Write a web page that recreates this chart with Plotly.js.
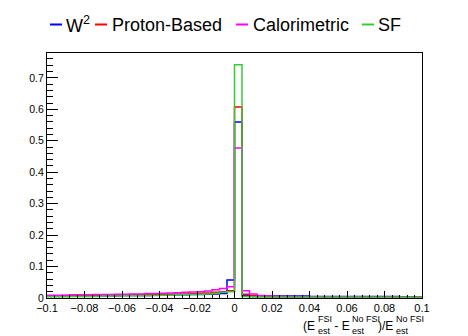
<!DOCTYPE html>
<html>
<head>
<meta charset="utf-8">
<script src="https://cdn.plot.ly/plotly-3.0.1.min.js"></script>
<style>
  html, body { margin: 0; padding: 0; background: #fff; }
  #chart { width: 468px; height: 336px; }
</style>
</head>
<body>
<div id="chart"></div>
<script>
// Binning: 50 bins of width 0.004 from -0.1 to 0.1
const binLow = -0.1;
const binWidth = 0.004;
const nBins = 50;

const seriesNames = ['W<sup>2</sup>', 'Proton-Based', 'Calorimetric', 'SF'];
const seriesColors = ['#0000ff', '#ff0000', '#ff00ff', '#33cc33'];

// bin contents (left edge -0.1 to right edge 0.1)
const w2Values = [
    0.006, 0.006, 0.006, 0.006, 0.006, 0.007, 0.007, 0.007, 0.007, 0.007,
    0.008, 0.008, 0.008, 0.008, 0.009, 0.009, 0.009, 0.010, 0.010, 0.011,
    0.011, 0.012, 0.013, 0.014, 0.057,
    0.560, 0.009, 0.007, 0.006, 0.006, 0.006, 0.006, 0.006, 0.006, 0.006,
    0.005, 0.005, 0.005, 0.005, 0.005, 0.005, 0.005, 0.005, 0.005, 0.005,
    0.005, 0.005, 0.004, 0.004, 0.004
];
const protonValues = [
    0.007, 0.007, 0.008, 0.008, 0.008, 0.008, 0.009, 0.009, 0.009, 0.009,
    0.010, 0.010, 0.010, 0.011, 0.011, 0.012, 0.012, 0.013, 0.013, 0.014,
    0.015, 0.016, 0.018, 0.020, 0.023,
    0.607, 0.012, 0.008, 0.006, 0.005, 0.005, 0.004, 0.004, 0.004, 0.004,
    0.004, 0.004, 0.004, 0.003, 0.003, 0.003, 0.003, 0.003, 0.003, 0.003,
    0.003, 0.003, 0.003, 0.003, 0.003
];
const caloValues = [
    0.009, 0.009, 0.009, 0.010, 0.010, 0.010, 0.011, 0.011, 0.011, 0.012,
    0.012, 0.013, 0.013, 0.014, 0.014, 0.015, 0.016, 0.017, 0.018, 0.019,
    0.020, 0.022, 0.026, 0.030, 0.036,
    0.477, 0.023, 0.013, 0.008, 0.006, 0.005, 0.005, 0.005, 0.004, 0.004,
    0.004, 0.004, 0.004, 0.004, 0.004, 0.004, 0.004, 0.003, 0.003, 0.003,
    0.003, 0.003, 0.003, 0.003, 0.003
];
const sfValues = [
    0.004, 0.004, 0.004, 0.005, 0.005, 0.005, 0.005, 0.006, 0.006, 0.006,
    0.007, 0.007, 0.007, 0.008, 0.008, 0.009, 0.009, 0.010, 0.011, 0.011,
    0.012, 0.013, 0.015, 0.018, 0.020,
    0.742, 0.005, 0.003, 0.003, 0.002, 0.002, 0.002, 0.002, 0.002, 0.002,
    0.002, 0.002, 0.002, 0.002, 0.002, 0.002, 0.002, 0.002, 0.002, 0.002,
    0.002, 0.002, 0.002, 0.002, 0.002
];

const allValues = [w2Values, protonValues, caloValues, sfValues];

// bin edges
const edges = [];
for (let i = 0; i <= nBins; i++) edges.push(+(binLow + i * binWidth).toFixed(4));

// plot area in pixels (for placing the hand-made legend and axis title)
const PL = 47, PR = 422, PT = 53, PB = 298;
const px = x => (x - PL) / (PR - PL);
const py = y => (PB - y) / (PB - PT);

const FONT = 'Liberation Sans, Arial, Helvetica, sans-serif';

// step histograms
const data = allValues.map((vals, k) => ({
    x: edges,
    y: vals.concat([vals[vals.length - 1]]),
    type: 'scatter',
    mode: 'lines',
    name: seriesNames[k],
    line: { color: seriesColors[k], width: 1.5, shape: 'hv' },
    hoverinfo: 'skip'
}));

// ROOT style legend across the top
const legendLines = [[50, 62], [95, 107], [236, 248], [362, 374]];
const legendText = [65, 111, 252, 377];
const shapes = legendLines.map((l, k) => ({
    type: 'line', xref: 'paper', yref: 'paper',
    x0: px(l[0]), x1: px(l[1]), y0: py(24.5), y1: py(24.5),
    line: { color: seriesColors[k], width: 2 }
}));
const annotations = seriesNames.map((name, k) => ({
    text: name, xref: 'paper', yref: 'paper',
    x: px(legendText[k]), y: py(25), xanchor: 'left', yanchor: 'middle',
    showarrow: false, borderpad: 0,
    font: { family: FONT, size: 18, color: '#000' }
}));

// x axis title, pieced together so that sub- and superscripts stack
const titleParts = [
    ['(E', 302, 326, 12], [' - E', 330, 326, 12], [')/E', 377, 326, 12],
    ['FSI', 317, 318.5, 9], ['No FSI', 351, 318.5, 9], ['No FSI', 395, 318.5, 9],
    ['est', 317, 331, 9], ['est', 351, 331, 9], ['est', 395, 331, 9]
];
titleParts.forEach(p => annotations.push({
    text: p[0], xref: 'paper', yref: 'paper',
    x: px(p[1]), y: py(p[2]), xanchor: 'left', yanchor: 'middle',
    showarrow: false, borderpad: 0,
    font: { family: FONT, size: p[3], color: '#000' }
}));

const layout = {
    width: 468,
    height: 336,
    margin: { l: PL, r: 468 - PR, t: PT, b: 336 - PB, pad: 0 },
    paper_bgcolor: '#fff',
    plot_bgcolor: '#fff',
    showlegend: false,
    font: { family: FONT, color: '#000' },
    xaxis: {
        range: [-0.1, 0.1],
        dtick: 0.02,
        tick0: 0,
        ticks: 'inside',
        ticklen: 7,
        tickcolor: '#000',
        tickfont: { size: 11 },
        showgrid: false,
        zeroline: false,
        showline: true,
        linecolor: '#000',
        linewidth: 1,
        mirror: true,
        minor: { dtick: 0.004, ticks: 'inside', ticklen: 3.5, tickcolor: '#000', showgrid: false }
    },
    yaxis: {
        range: [0, 0.779],
        dtick: 0.1,
        tick0: 0,
        ticks: 'inside',
        ticklen: 11,
        tickcolor: '#000',
        tickfont: { size: 10.5 },
        showgrid: false,
        zeroline: false,
        showline: true,
        linecolor: '#000',
        linewidth: 1,
        mirror: true,
        minor: { dtick: 0.02, ticks: 'inside', ticklen: 5.5, tickcolor: '#000', showgrid: false }
    },
    shapes: shapes,
    annotations: annotations
};

Plotly.newPlot('chart', data, layout, { staticPlot: true, displayModeBar: false });
</script>
</body>
</html>
